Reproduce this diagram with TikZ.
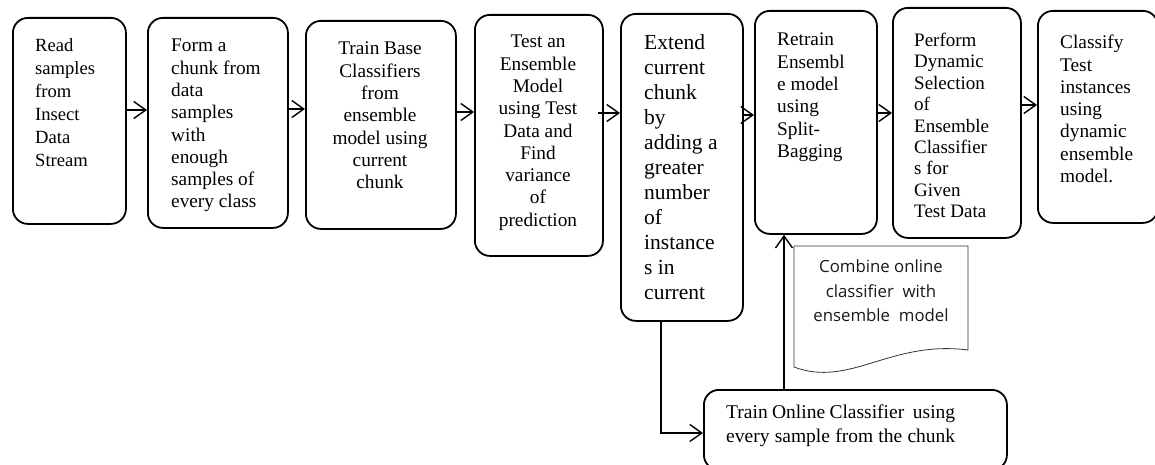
\documentclass[tikz,border=0pt]{standalone}
\usepackage{fontspec}
\setmainfont{Liberation Serif}
\newfontfamily\docfont{Open Sans}
\usetikzlibrary{arrows.meta,calc}
\begin{document}
\begin{tikzpicture}[x=1pt,y=-1pt,
  box/.style={draw=black,line width=1.8pt,rounded corners=15pt,anchor=north west,inner sep=0pt},
  txt/.style={anchor=north west,inner sep=0pt,font=\fontsize{19.3}{22.3}\selectfont},
  arr/.style={line width=1.4pt,-{Straight Barb[length=12pt,width=17pt,line width=1.4pt]}},
  ln/.style={line width=1.4pt}]
\useasboundingbox (0,0) rectangle (1155,465);
% boxes
\node[box,minimum width=113pt,minimum height=206pt] (b1) at (12,17) {};
\node[box,minimum width=140pt,minimum height=210pt] (b2) at (147,17) {};
\node[box,minimum width=150pt,minimum height=208pt] (b3) at (305,20) {};
\node[box,minimum width=128pt,minimum height=241pt] (b4) at (474,14) {};
\node[box,minimum width=122pt,minimum height=307pt] (b5) at (620,13) {};
\node[box,minimum width=122pt,minimum height=223pt] (b6) at (754,10) {};
\node[box,minimum width=128pt,minimum height=230pt] (b7) at (892,7) {};
\node[box,minimum width=120pt,minimum height=212pt] (b8) at (1037,10) {};
\node[box,minimum width=303pt,minimum height=80pt] (b9) at (703,389) {};
% texts
\node[txt,align=left,font=\fontsize{18.6}{23}\selectfont] (t1) at (35,38) {Read\\samples\\from\\Insect\\Data\\Stream};
\node[txt,align=left] (t2) at (171,39) {Form a\\chunk from\\data\\samples\\with\\enough\\samples of\\every class};
\node[txt,align=center,anchor=north] (t3) at (380,42) {Train Base\\Classifiers\\from\\ensemble\\model using\\current\\chunk};
\node[txt,align=center,anchor=north] (t4) at (538,35) {Test an\\Ensemble\\Model\\using Test\\Data and\\Find\\variance\\of\\prediction};
\node[txt,align=left,font=\fontsize{21.5}{25}\selectfont] (t5) at (644,34) {Extend\\current\\chunk\\by\\adding a\\greater\\number\\of\\instance\\s in\\current};
\node[txt,align=left] (t6) at (777,33) {Retrain\\Ensembl\\e model\\using\\Split-\\Bagging};
\node[txt,align=left,font=\fontsize{19}{21.4}\selectfont] (t7) at (914,33) {Perform\\Dynamic\\Selection\\of\\Ensemble\\Classifier\\s for\\Given\\Test Data};
\node[txt,align=left] (t8) at (1060,35) {Classify\\Test\\instances\\using\\dynamic\\ensemble\\model.};
\node[txt,align=left,font=\fontsize{19.5}{24}\selectfont] (t9) at (726,405) {\makebox[229pt][s]{Train Online Classifier\ \ using}\\\makebox[229pt][s]{every sample from the chunk}};
% document shape
\draw[line width=0.8pt,draw=black!80] (794,246) -- (968,246) -- (968,350) .. controls (890,340) and (850,388) .. (794,367) -- cycle;
\node[anchor=north,inner sep=0pt,align=center,text=black!90,font=\docfont\fontsize{16.8}{24.5}\selectfont] (doc) at (881,260) {Combine online\\classifier\ \ with\\ensemble\ \ model};
% level coordinates
\coordinate (y1) at (0,110);
\coordinate (y2) at (0,109);
\coordinate (y3) at (0,112);
\coordinate (y4) at (0,113);
\coordinate (y5) at (0,115);
\coordinate (y6) at (0,113);
\coordinate (y7) at (0,105);
\coordinate (yb) at (0,433);
\coordinate (xa) at (661,0);
\coordinate (xu) at (784,0);
% connectors
\draw[arr] (b1.east |- y1) -- (b2.west |- y1);
\draw[arr] (b2.east |- y2) -- (b3.west |- y2);
\draw[arr] (b3.east |- y3) -- (b4.west |- y3);
\draw[arr] ([xshift=-6pt]b4.east |- y4) -- (b5.west |- y4);
\draw[arr] (b5.east |- y5) -- (b6.west |- y5);
\draw[arr] (b6.east |- y6) -- (b7.west |- y6);
\draw[arr] (b7.east |- y7) -- (b8.west |- y7);
\draw[arr] (b5.south -| xa) -- (xa |- yb) -- (b9.west |- yb);
\draw[arr] (b9.north -| xu) -- (b6.south -| xu);
\end{tikzpicture}
\end{document}
